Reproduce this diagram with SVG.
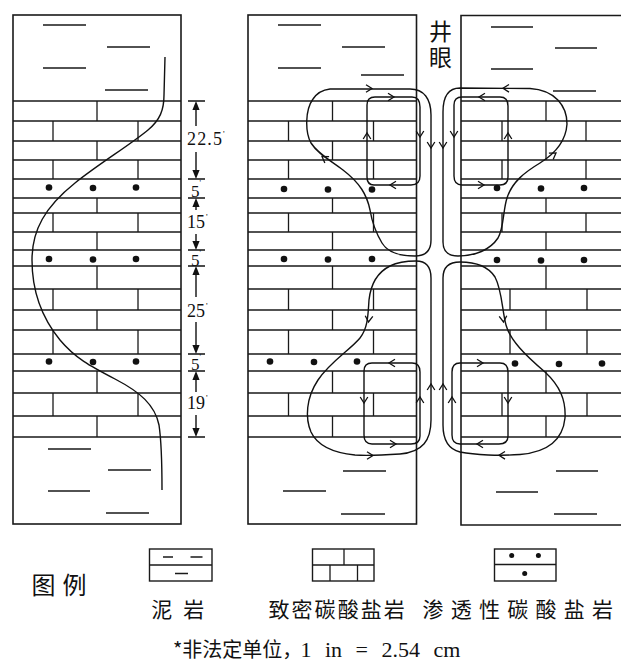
<svg xmlns="http://www.w3.org/2000/svg" xmlns:xlink="http://www.w3.org/1999/xlink" width="621" height="663" viewBox="0 0 621 663">
  <style>
    .frame { fill: none; stroke: #1a1a1a; stroke-width: 1.6; }
    .brick { fill: none; stroke: #1a1a1a; stroke-width: 1.3; }
    .shale { fill: none; stroke: #1a1a1a; stroke-width: 1.3; }
    .dot { fill: #111; }
    .flow { fill: none; stroke: #111; stroke-width: 1.4; }
    .chev { fill: none; stroke: #111; stroke-width: 1.3; stroke-linejoin: miter; }
    .log { fill: none; stroke: #111; stroke-width: 1.4; }
    .dim { fill: none; stroke: #111; stroke-width: 1.4; }
    .head { fill: #111; }
    .num { font-family: "Liberation Serif", "Times New Roman", serif; fill: #111; }
    .cjk { font-family: "Noto Sans CJK SC", "Noto Sans", sans-serif; fill: #111; }
  </style>
  <defs>
    <!-- open chevron, tip at origin, pointing along +x -->
    <path id="chev" class="chev" d="M-6,-3.8 L0,0 L-6,3.8"/>
    <!-- filled dimension arrow head, tip at origin, pointing up -->
    <path id="ah" class="head" d="M0,0 L-3.6,9 L3.6,9 Z"/>
    <!-- horizontal bedding lines of the carbonate interval (x from 0) -->
    <path id="bedding" class="brick" d="M0,101H168 M0,121H168 M0,141H168 M0,160H168 M0,179H168 M0,198H168 M0,213H168 M0,232H168 M0,250H168 M0,266H168 M0,289H168 M0,310H168 M0,330H168 M0,354H168 M0,371H168 M0,393H168 M0,416H168 M0,437H168"/>
    <!-- brick joints -->
    <path id="joints" class="brick" d="M84,101V121 M84,141V160 M84,198V213 M84,232V250 M84,266V289 M84,310V330 M84,371V393 M84,416V437 M40,121V141 M125,121V141 M40,160V179 M125,160V179 M40,213V232 M125,213V232 M40,289V310 M125,289V310 M40,330V354 M125,330V354 M40,393V416 M125,393V416"/>
  </defs>

  <!-- left column: lithology with log curve -->
  <g id="col-left">
    <rect class="frame" x="13" y="15" width="168" height="509"/>
    <use xlink:href="#bedding" x="13"/>
    <use xlink:href="#joints" x="13"/>
    <path class="shale" d="M43,25H86 M107,47H150 M43,68H86 M105,90H148 M48,449H91 M108,470H151 M48,491H90 M106,513H149"/>
    <g class="dot">
      <circle cx="49" cy="187.5" r="3.3"/><circle cx="93" cy="188" r="3.3"/><circle cx="136" cy="187.5" r="3.3"/>
      <circle cx="49" cy="259" r="3.3"/><circle cx="93" cy="259.5" r="3.3"/><circle cx="136" cy="259" r="3.3"/>
      <circle cx="49" cy="361.5" r="3.3"/><circle cx="93" cy="362" r="3.3"/><circle cx="136" cy="361.5" r="3.3"/>
    </g>
    <path class="log" d="M165,57 L164,95 C164,110 160,120 148,130 C130,145 100,163 75,183 C45,207 32,230 32,260 C32,290 42,318 60,340 C75,358 90,366 115,379 C140,392 155,405 159,425 C162,445 162,470 162,490"/>
  </g>

  <!-- interval thicknesses -->
  <g id="dimensions">
    <path class="dim" d="M188,101H205 M188,179H205 M188,198H205 M188,250H205 M188,266H205 M188,354H205 M188,371H205 M188,437H205"/>
    <path class="dim" d="M196,108V126 M196,152V172 M196,205V210 M196,234V243 M196,273V297 M196,322V347 M196,378V392 M196,415V430"/>
    <use xlink:href="#ah" transform="translate(196,101)"/>
    <use xlink:href="#ah" transform="translate(196,179) rotate(180)"/>
    <use xlink:href="#ah" transform="translate(196,198)"/>
    <use xlink:href="#ah" transform="translate(196,250) rotate(180)"/>
    <use xlink:href="#ah" transform="translate(196,266)"/>
    <use xlink:href="#ah" transform="translate(196,354) rotate(180)"/>
    <use xlink:href="#ah" transform="translate(196,371)"/>
    <use xlink:href="#ah" transform="translate(196,437) rotate(180)"/>
    <text class="num" x="187" y="145" font-size="18" textLength="35" lengthAdjust="spacing">22.5</text>
    <text class="num" x="223" y="137" font-size="9">'</text>
    <text class="num" x="191" y="196.5" font-size="17">5</text>
    <text class="num" x="199.5" y="186" font-size="8">'</text>
    <text class="num" x="187" y="228" font-size="18">15</text>
    <text class="num" x="206" y="220" font-size="9">'</text>
    <text class="num" x="191" y="265.5" font-size="17">5</text>
    <text class="num" x="199.5" y="255.5" font-size="8">'</text>
    <text class="num" x="187" y="317" font-size="18">25</text>
    <text class="num" x="206" y="309" font-size="9">'</text>
    <text class="num" x="191" y="369.5" font-size="17">5</text>
    <text class="num" x="199.5" y="359.5" font-size="8">'</text>
    <text class="num" x="187" y="409" font-size="18">19</text>
    <text class="num" x="206" y="401" font-size="9">'</text>
  </g>

  <!-- middle column -->
  <g id="col-middle">
    <rect class="frame" x="248" y="15" width="168.5" height="509"/>
    <use xlink:href="#bedding" x="248"/>
    <use xlink:href="#joints" x="248.5"/>
    <path class="shale" d="M278,25H321 M342,47H385 M278,68H321 M361,75H404 M343,471H386 M283,491H326 M341,514H385"/>
    <g class="dot">
      <circle cx="284" cy="189" r="3.3"/><circle cx="328" cy="189.5" r="3.3"/><circle cx="372" cy="189.5" r="3.3"/>
      <circle cx="284" cy="259" r="3.3"/><circle cx="328" cy="259.5" r="3.3"/><circle cx="372" cy="259" r="3.3"/>
      <circle cx="270" cy="361.5" r="3.3"/><circle cx="314" cy="362" r="3.3"/><circle cx="357" cy="361.5" r="3.3"/>
    </g>
  </g>

  <!-- right column (continues past the right edge) -->
  <g id="col-right">
    <path class="frame" d="M630,15.5H461V525H630"/>
    <use xlink:href="#bedding" x="461"/>
    <path class="brick" d="M546,101V121 M546,141V160 M546,198V213 M546,232V250 M546,266V289 M546,310V330 M546,371V393 M546,416V437 M502,121V141 M586,121V141 M502,160V179 M586,160V179 M502,213V232 M586,213V232 M510,289V310 M587,289V310 M510,330V354 M587,330V354 M502,393V416 M587,393V416"/>
    <path class="shale" d="M491,27H533 M555,48H597 M491,69H533 M553,91H596 M556,471H598 M496,492H538 M554,514H597"/>
    <g class="dot">
      <circle cx="497" cy="188" r="3.3"/><circle cx="541" cy="188.5" r="3.3"/><circle cx="584" cy="188" r="3.3"/>
      <circle cx="497" cy="260" r="3.3"/><circle cx="541" cy="260.5" r="3.3"/><circle cx="584" cy="260" r="3.3"/>
      <circle cx="515" cy="363.5" r="3.3"/><circle cx="559" cy="364" r="3.3"/><circle cx="602" cy="363.5" r="3.3"/>
    </g>
  </g>

  <!-- wellbore label, set vertically -->
  <g id="label-wellbore">
    <text class="cjk" x="440.5" y="20" font-size="23" writing-mode="vertical-rl" letter-spacing="3">井眼</text>
  </g>

  <!-- circulation loops between wellbore and formation -->
  <g id="connectors">
    <!-- middle, upper outer loop -->
    <path class="flow" d="M330,89 L410,89 C424,89 431,99 431,115 L431,240 C431,251 425,256 415,256 C400,256 388,253 382,243 C376,233 372,222 370,210 C367,195 360,183 343,170 C330,160 318,154 311,143 C305,132 305,110 313,99 C317,93 322,90 330,89 Z"/>
    <!-- middle, upper inner loop -->
    <path class="flow" d="M375,97 L412,97 C418,97 420,101 420,107 L420,176 C420,182 417,185 411,185 L374,185 C369,185 367,182 367,177 L367,105 C367,100 370,97 375,97 Z"/>
    <!-- middle, lower outer loop -->
    <path class="flow" d="M416,261 C426,261 431,266 431,278 L431,420 C431,440 423,452 400,454 C385,455 370,456 355,455 C335,453 318,447 311,432 C305,418 306,398 318,380 C330,362 350,350 360,338 C368,328 368,315 369,300 C371,282 378,272 390,266 C398,262 407,261 416,261 Z"/>
    <!-- middle, lower inner loop -->
    <path class="flow" d="M372,363 L412,363 C418,363 420,366 420,372 L420,436 C420,442 417,444 411,444 L372,444 C366,444 364,441 364,435 L364,371 C364,366 367,363 372,363 Z"/>
    <!-- right, upper outer loop -->
    <path class="flow" d="M460,88 C449,88 443,96 443,112 L443,242 C443,251 448,256 458,256 C475,256 490,250 498,238 C504,228 503,210 507,198 C512,182 525,172 540,163 C556,153 566,140 567,124 C567,106 555,90 530,88.5 L460,88 Z"/>
    <!-- right, upper inner loop -->
    <path class="flow" d="M462,97 L500,97 C506,97 508,100 508,106 L508,177 C508,182 505,185 500,185 L462,185 C456,185 454,182 454,176 L454,105 C454,100 457,97 462,97 Z"/>
    <!-- right, lower outer loop -->
    <path class="flow" d="M443,278 C443,267 449,262 460,262 C475,262 488,266 495,277 C502,290 502,310 506,325 C510,340 525,355 545,372 C560,386 566,400 565,418 C563,438 550,452 520,454.5 C500,456 475,455 460,452 C448,449 443,440 443,425 L443,278 Z"/>
    <!-- right, lower inner loop -->
    <path class="flow" d="M460,363 L500,363 C506,363 508,366 508,372 L508,436 C508,442 505,444 499,444 L460,444 C454,444 452,441 452,435 L452,372 C452,366 455,363 460,363 Z"/>

    <!-- flow direction marks -->
    <use xlink:href="#chev" transform="translate(372,88.5)"/>
    <use xlink:href="#chev" transform="translate(431,148) rotate(90)"/>
    <use xlink:href="#chev" transform="translate(322,156.5) rotate(-146)"/>
    <use xlink:href="#chev" transform="translate(394,97)"/>
    <use xlink:href="#chev" transform="translate(420,137) rotate(90)"/>
    <use xlink:href="#chev" transform="translate(390,185) rotate(180)"/>
    <use xlink:href="#chev" transform="translate(367,133) rotate(-90)"/>

    <use xlink:href="#chev" transform="translate(368.5,322) rotate(95)"/>
    <use xlink:href="#chev" transform="translate(373,455.5)"/>
    <use xlink:href="#chev" transform="translate(431,384) rotate(-90)"/>
    <use xlink:href="#chev" transform="translate(389,363) rotate(180)"/>
    <use xlink:href="#chev" transform="translate(364,403) rotate(90)"/>
    <use xlink:href="#chev" transform="translate(396,444)"/>
    <use xlink:href="#chev" transform="translate(420,397) rotate(-90)"/>

    <use xlink:href="#chev" transform="translate(503,88.3) rotate(180)"/>
    <use xlink:href="#chev" transform="translate(443,148) rotate(90)"/>
    <use xlink:href="#chev" transform="translate(556,153) rotate(-34)"/>
    <use xlink:href="#chev" transform="translate(479,97) rotate(180)"/>
    <use xlink:href="#chev" transform="translate(454,137) rotate(90)"/>
    <use xlink:href="#chev" transform="translate(484,185)"/>
    <use xlink:href="#chev" transform="translate(508,133) rotate(-90)"/>

    <use xlink:href="#chev" transform="translate(503.5,322) rotate(85)"/>
    <use xlink:href="#chev" transform="translate(499,455.3) rotate(180)"/>
    <use xlink:href="#chev" transform="translate(443,384) rotate(-90)"/>
    <use xlink:href="#chev" transform="translate(483,363)"/>
    <use xlink:href="#chev" transform="translate(508,403) rotate(90)"/>
    <use xlink:href="#chev" transform="translate(477,444) rotate(180)"/>
    <use xlink:href="#chev" transform="translate(452,397) rotate(-90)"/>
  </g>

  <!-- legend -->
  <g id="legend">
    <text class="cjk" x="31.5" y="594" font-size="24" textLength="55" lengthAdjust="spacing">图例</text>
    <g id="legend-shale">
      <rect class="frame" x="149.5" y="549" width="62.5" height="32" style="stroke-width:1.4"/>
      <path class="brick" d="M149.5,565H212 M163,557H173 M190.5,557H202.5 M175,573.5H188"/>
      <text class="cjk" x="151.3" y="617" font-size="21" textLength="53" lengthAdjust="spacing">泥岩</text>
    </g>
    <g id="legend-tight">
      <rect class="frame" x="312.5" y="549" width="61.5" height="32" style="stroke-width:1.4"/>
      <path class="brick" d="M312.5,565H374 M344,549V565 M330,565V581 M357.5,565V581"/>
      <text class="cjk" x="268.4" y="617" font-size="21" textLength="136.4" lengthAdjust="spacing">致密碳酸盐岩</text>
    </g>
    <g id="legend-permeable">
      <rect class="frame" x="494.5" y="549" width="61.5" height="32" style="stroke-width:1.4"/>
      <path class="brick" d="M494.5,564.5H556"/>
      <circle class="dot" cx="511.7" cy="555.5" r="2.5"/>
      <circle class="dot" cx="538.4" cy="555.5" r="2.5"/>
      <circle class="dot" cx="524.7" cy="573.5" r="2.5"/>
      <text class="cjk" x="422.5" y="617" font-size="21" textLength="190.5" lengthAdjust="spacing">渗透性碳酸盐岩</text>
    </g>
  </g>

  <!-- unit note -->
  <g id="footnote">
    <text class="cjk" x="173" y="657" font-size="20">*非法定单位，</text>
    <text class="num" x="300.5" y="657" font-size="22" word-spacing="8">1 in = 2.54 cm</text>
  </g>
</svg>
